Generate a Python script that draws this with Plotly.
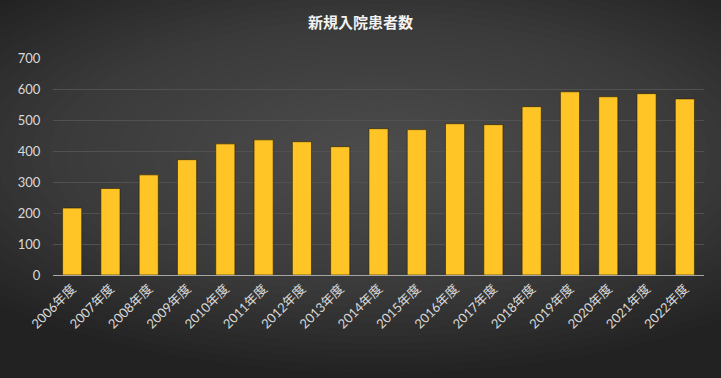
import plotly.graph_objects as go

categories = [f"{y}年度" for y in range(2006, 2023)]
patients = [216, 279, 323, 372, 423, 436, 430, 414, 472, 469, 488, 485, 543, 591, 575, 585, 568]
y_ticks = [0, 100, 200, 300, 400, 500, 600, 700]
title_text = "新規入院患者数"

fig = go.Figure()
fig.add_trace(go.Bar(
    x=categories, y=patients,
    marker=dict(color="#FFC526", line=dict(color="rgba(40,30,0,0.6)", width=1)),
    width=0.5,
    hoverinfo="x+y",
))

# radial-ish background glow
shapes = []
n = 30
for i in range(n):
    f = 1 - i / n
    shapes.append(dict(
        type="circle", xref="paper", yref="paper", layer="below",
        x0=0.5 - 0.8 * f, x1=0.5 + 0.8 * f,
        y0=0.55 - 1.0 * f, y1=0.55 + 1.0 * f,
        fillcolor="#7a7a7a", opacity=0.035, line=dict(width=0),
    ))

fig.update_layout(
    width=721, height=378,
    margin=dict(l=53, r=17, t=58, b=103),
    paper_bgcolor="#222222",
    plot_bgcolor="rgba(0,0,0,0)",
    shapes=shapes,
    showlegend=False,
    title=dict(text=f"<b>{title_text}</b>", x=0.5, xanchor="center", y=0.94, yanchor="middle",
               font=dict(family="Noto Sans CJK JP", size=15, color="#f2f2f2")),
    font=dict(family="Lato, Noto Sans CJK JP", color="#d9d9d9", size=13),
    xaxis=dict(tickangle=-45, showgrid=False, showline=True, linecolor="#a6a6a6", linewidth=1,
               tickfont=dict(size=13, color="#d9d9d9"), ticks=""),
    yaxis=dict(range=[0, 700], tickvals=y_ticks, showgrid=True, gridcolor="#515151", gridwidth=1,
               zeroline=False, showline=False, ticks="outside", ticklen=9, tickcolor="rgba(0,0,0,0)",
               tickfont=dict(size=13, color="#d9d9d9")),
    bargap=0.5,
)

fig.write_html("out.html", config={"displayModeBar": False},
               post_script="document.body.style.margin='0';document.body.style.background='#222222';")
